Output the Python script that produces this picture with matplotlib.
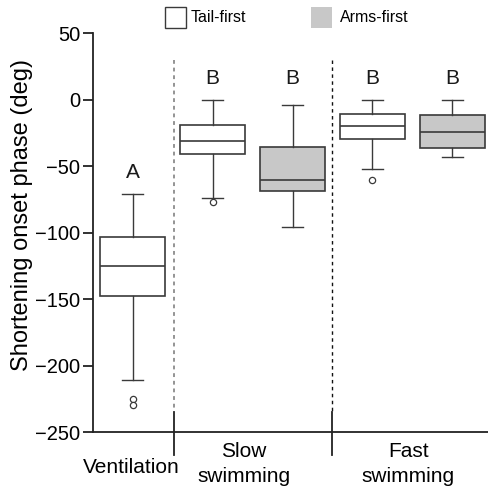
import matplotlib
matplotlib.use("Agg")
import matplotlib.pyplot as plt
from matplotlib.patches import Rectangle

plt.rcParams['font.family'] = ['Liberation Sans', 'DejaVu Sans']

# data
box_labels = ["Ventilation", "Slow tail", "Slow arms", "Fast tail", "Fast arms"]
whislo = [-211, -74, -96, -52.5, -43]
q1 = [-148, -41, -68.5, -29.5, -36.7]
med = [-125, -31.5, -60.5, -20, -24.5]
q3 = [-103, -19.5, -35.5, -11, -11.7]
whishi = [-71, 0, -4, 0, 0]
fliers = [[-225, -230], [-77], [], [-60.5], []]
conditions = ["tail", "tail", "arms", "tail", "arms"]
sig_letters = ["A", "B", "B", "B", "B"]
group_labels = [["Ventilation"], ["Slow", "swimming"], ["Fast", "swimming"]]
yticks = [50, 0, -50, -100, -150, -200, -250]

edge = "#3a3a3a"
gray = "#c8c8c8"

fig = plt.figure(figsize=(4.89, 4.86), dpi=100)
ax = fig.add_axes([0.190, 0.111, 0.810, 0.821])

positions = list(range(len(box_labels)))
stats = []
for i in positions:
    stats.append(dict(whislo=whislo[i], q1=q1[i], med=med[i], q3=q3[i],
                      whishi=whishi[i], fliers=fliers[i], label=box_labels[i]))

bp = ax.bxp(stats, positions=positions, widths=0.81, patch_artist=True,
            showfliers=True,
            boxprops=dict(linewidth=1.2, edgecolor=edge),
            medianprops=dict(color=edge, linewidth=1.2),
            whiskerprops=dict(color=edge, linewidth=1.0),
            capprops=dict(color=edge, linewidth=1.0),
            capwidths=0.26,
            flierprops=dict(marker='o', markersize=4.5, markerfacecolor='white',
                            markeredgecolor=edge, markeredgewidth=0.9))
for patch, c in zip(bp['boxes'], conditions):
    patch.set_facecolor('white' if c == 'tail' else gray)

for i, l in enumerate(sig_letters):
    y = 16 if l == "B" else -55
    ax.text(positions[i], y, l, ha='center', va='center', fontsize=15, color='#1a1a1a')

# dividers
ax.plot([0.51, 0.51], [30, -234], linestyle=(0, (2.5, 2.5)), color='#777777', linewidth=1.1)
ax.plot([2.5, 2.5], [30, -234], linestyle=(0, (2.5, 2.5)), color='#111111', linewidth=1.0)
for xd in [0.51, 2.5]:
    ax.plot([xd, xd], [-235, -267], color='#222222', linewidth=1.3, clip_on=False)

ax.set_xlim(-0.5, 4.46)
ax.set_ylim(-250, 50)
ax.set_yticks(yticks)
ax.set_yticklabels([str(t).replace('-', '\u2212') for t in yticks], fontsize=14.5)
ax.set_xticks([])
ax.spines['top'].set_visible(False)
ax.spines['right'].set_visible(False)
for s in ['left', 'bottom']:
    ax.spines[s].set_linewidth(1.3)
    ax.spines[s].set_color('#222222')
ax.tick_params(axis='y', length=7, width=1.3, color='#222222', pad=2)
ax.set_ylabel("Shortening onset phase (deg)", fontsize=17)
ax.yaxis.set_label_coords(-0.152, 0.544)

# group labels (pixel rows converted to data units)
def px2val(py):
    return (100 - py) / (399 / 300)

ax.text(-0.02, px2val(473), group_labels[0][0], ha='center', va='baseline', fontsize=15, clip_on=False)
ax.text(1.39, px2val(457), group_labels[1][0], ha='center', va='baseline', fontsize=15, clip_on=False)
ax.text(1.39, px2val(482), group_labels[1][1], ha='center', va='baseline', fontsize=15, clip_on=False)
ax.text(3.45, px2val(457), group_labels[2][0], ha='center', va='baseline', fontsize=15, clip_on=False)
ax.text(3.45, px2val(482), group_labels[2][1], ha='center', va='baseline', fontsize=15, clip_on=False)

# legend
fig.add_artist(Rectangle((164.5 / 489, 1 - 28 / 486), 21.5 / 489, 21 / 486,
                         transform=fig.transFigure, facecolor='white', edgecolor=edge, linewidth=1.0))
fig.text(190.5 / 489, 1 - 18 / 486, "Tail-first", fontsize=11.5, va='center', ha='left')
fig.add_artist(Rectangle((311.5 / 489, 1 - 28.3 / 486), 21 / 489, 21 / 486,
                         transform=fig.transFigure, facecolor=gray, edgecolor='none'))
fig.text(340 / 489, 1 - 18 / 486, "Arms-first", fontsize=11.5, va='center', ha='left')

fig.savefig("out.png", dpi=100)
